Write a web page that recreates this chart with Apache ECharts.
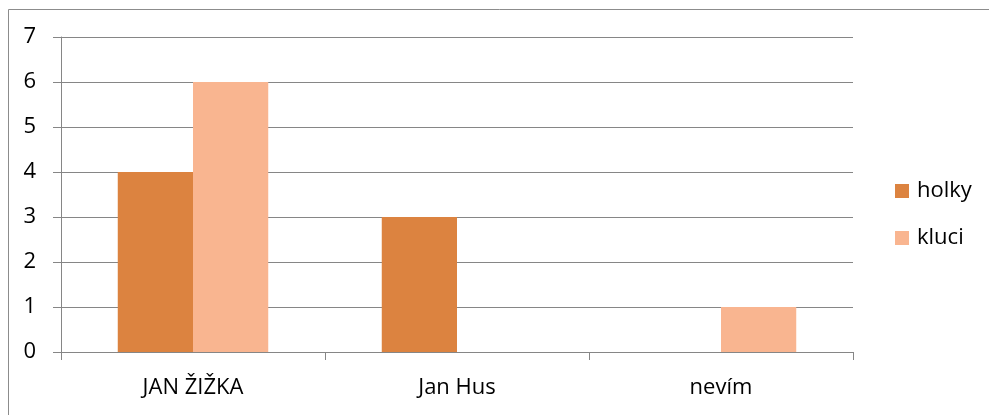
<!DOCTYPE html>
<html><head><meta charset="utf-8">
<script src="https://cdn.jsdelivr.net/npm/echarts@6/dist/echarts.min.js"></script>
<style>html,body{margin:0;padding:0;background:#fff}#c{width:989px;height:415px}</style>
</head><body><div id="c"></div>
<script>
var categories = ['JAN ŽIŽKA', 'Jan Hus', 'nevím'];
var holky = [4, 3, 0];
var kluci = [6, 0, 1];
var yTicks = [0, 1, 2, 3, 4, 5, 6, 7];

var chart = echarts.init(document.getElementById('c'), null, {renderer: 'canvas'});
var font = 'Open Sans';
chart.setOption({
  animation: false,
  backgroundColor: '#fff',
  graphic: [{
    type: 'rect', left: 6, top: 7, silent: true,
    shape: {width: 1100, height: 600},
    style: {fill: 'none', stroke: '#8c8c8c', lineWidth: 1}
  }],
  grid: {left: 61, right: 136, top: 37, bottom: 63},
  legend: {
    orient: 'vertical', left: 895, top: 180, padding: 0,
    itemWidth: 14, itemHeight: 14, itemGap: 25,
    icon: 'rect',
    textStyle: {fontFamily: font, fontSize: 22, color: '#000', padding: [0, 0, 0, 3]},
    data: ['holky', 'kluci']
  },
  xAxis: {
    type: 'category', data: categories,
    axisLine: {lineStyle: {color: '#868686', width: 1}},
    axisTick: {show: true, length: 8, alignWithLabel: false, lineStyle: {color: '#868686'}},
    axisLabel: {fontFamily: font, fontSize: 22, color: '#000', margin: 25}
  },
  yAxis: {
    type: 'value', min: yTicks[0], max: yTicks[yTicks.length - 1], interval: 1,
    axisLine: {show: true, lineStyle: {color: '#868686', width: 1}},
    axisTick: {show: true, length: 8, lineStyle: {color: '#868686'}},
    axisLabel: {fontFamily: font, fontSize: 22, color: '#000', margin: 25},
    splitLine: {lineStyle: {color: '#868686', width: 1}}
  },
  series: [
    {name: 'holky', type: 'bar', data: holky, barGap: '0%', barCategoryGap: '43%',
     itemStyle: {color: '#DC8340'}},
    {name: 'kluci', type: 'bar', data: kluci, barGap: '0%', barCategoryGap: '43%',
     itemStyle: {color: '#F9B590'}}
  ]
});
</script></body></html>
